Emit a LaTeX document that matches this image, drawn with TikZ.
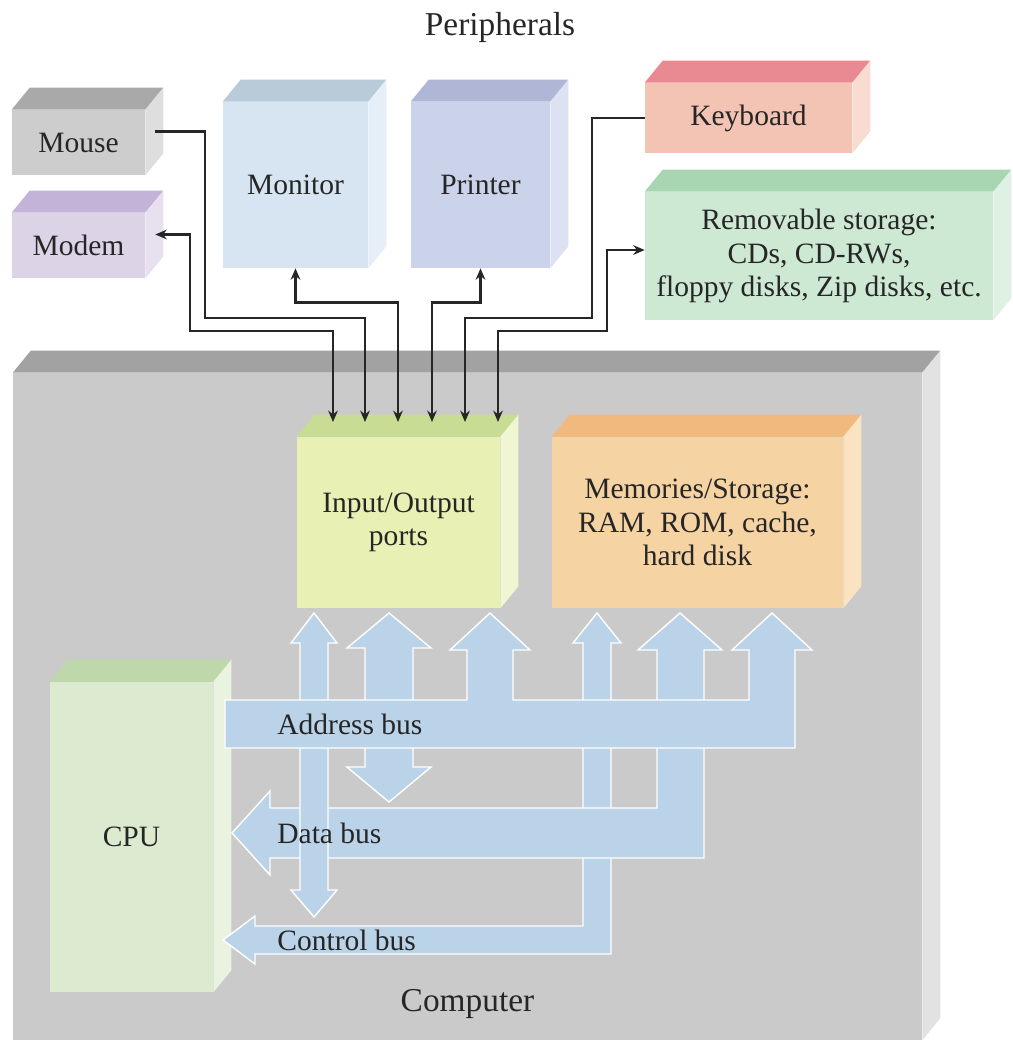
\documentclass[tikz,border=0pt]{standalone}
\usepackage{fontspec}
\setmainfont{Liberation Serif}
\usetikzlibrary{arrows.meta,positioning,calc}

% front / top / side colours of the boxes
\definecolor{mouseF}{HTML}{CDCDCD}\definecolor{mouseT}{HTML}{A9A9A9}\definecolor{mouseS}{HTML}{DEDEDE}
\definecolor{modemF}{HTML}{DCD3E6}\definecolor{modemT}{HTML}{C3B3D8}\definecolor{modemS}{HTML}{E7E0EF}
\definecolor{monF}{HTML}{D6E5F1}\definecolor{monT}{HTML}{B9CAD9}\definecolor{monS}{HTML}{E6EFF7}
\definecolor{prnF}{HTML}{CBD3EA}\definecolor{prnT}{HTML}{B0B6D6}\definecolor{prnS}{HTML}{DDE2F2}
\definecolor{kbdF}{HTML}{F3C3B3}\definecolor{kbdT}{HTML}{E98A92}\definecolor{kbdS}{HTML}{F8DCD2}
\definecolor{remF}{HTML}{CDE8D3}\definecolor{remT}{HTML}{A8D5B2}\definecolor{remS}{HTML}{DEF1E3}
\definecolor{compF}{HTML}{CACACA}\definecolor{compT}{HTML}{A2A2A2}\definecolor{compS}{HTML}{E2E2E2}
\definecolor{ioF}{HTML}{E8F0B4}\definecolor{ioT}{HTML}{C8DC94}\definecolor{ioS}{HTML}{F1F6D2}
\definecolor{memF}{HTML}{F5D3A3}\definecolor{memT}{HTML}{F2B97E}\definecolor{memS}{HTML}{FAE3C0}
\definecolor{cpuF}{HTML}{DCEBD0}\definecolor{cpuT}{HTML}{BED7AB}\definecolor{cpuS}{HTML}{E9F3E0}
\definecolor{busblue}{HTML}{BAD3E8}

\begin{document}
\begin{tikzpicture}[x=0.02cm, y=-0.02cm, >={Stealth[length=6.5pt,width=5.5pt]},
	   font=\fontsize{16.8}{19}\selectfont,
	   b/.style={inner sep=0pt, align=center, text=black!85},
	   ttl/.style={font=\fontsize{19}{22}\selectfont, text=black!85},
	   bus/.style={fill=busblue, draw=white, line width=0.8pt},
	   wire/.style={line width=1.6pt, draw=black!85}]
	  \fill[white, use as bounding box] (0,0) rectangle (1013,1048);

	  % computer and its parts
	  \node[b, fill=compF, minimum width=18.18cm, minimum height=13.34cm] (comp) at (467.5,706.5) {};
	  \node[ttl, above=0.3cm of comp.south] (complbl) {Computer};
	  \node[b, fill=ioF, minimum width=4.06cm, minimum height=3.42cm] (io) at (398.5,522.5) {Input/Output\\ports};
	  \node[b, fill=memF, minimum width=5.82cm, minimum height=3.42cm] (mem) at (697.5,522.5) {Memories/Storage:\\RAM, ROM, cache,\\hard disk};
	  \node[b, fill=cpuF, minimum width=3.26cm, minimum height=6.2cm] (cpu) at (131.5,837) {CPU};

	  % peripherals
	  \node[ttl] (periph) at (500,27) {Peripherals};
	  \node[b, fill=mouseF, minimum width=2.66cm, minimum height=1.3cm] (mouse) at (78.5,142.5) {Mouse};
	  \node[b, fill=modemF, minimum width=2.66cm, minimum height=1.3cm] (modem) at (78.5,245.5) {Modem};
	  \node[b, fill=monF, minimum width=2.9cm, minimum height=3.32cm] (monitor) at (295.5,185) {Monitor};
	  \node[b, fill=prnF, minimum width=2.78cm, minimum height=3.32cm] (printer) at (480.5,185) {Printer};
	  \node[b, fill=kbdF, minimum width=4.14cm, minimum height=1.4cm] (keyboard) at (748.5,118) {Keyboard};
	  \node[b, fill=remF, minimum width=6.96cm, minimum height=2.56cm] (remov) at (819,256) {Removable storage:\\CDs, CD-RWs,\\floppy disks, Zip disks, etc.};

	  % top and side faces
	  \foreach \n/\col in {mouse/mouse, modem/modem, monitor/mon, printer/prn, keyboard/kbd,
	                       remov/rem, comp/comp, io/io, mem/mem, cpu/cpu} {
	    \fill[\col T] (\n.north west) -- ++(18,-22) -- ($(\n.north east)+(18,-22)$) -- (\n.north east) -- cycle;
	    \fill[\col S] (\n.north east) -- ++(18,-22) -- ($(\n.south east)+(18,-22)$) -- (\n.south east) -- cycle;
	  }

	  % buses
	  \path[bus] (223,940) -- (255,916) -- (255,926) -- (583,926) -- (583,643) -- (573,643) -- (597,613)
	    -- (621,643) -- (611,643) -- (611,954) -- (255,954) -- (255,964) -- cycle;
	  \path[bus] (232,833) -- (270,791) -- (270,808) -- (657,808) -- (657,650) -- (638,650) -- (680,613)
	    -- (722,650) -- (704,650) -- (704,858) -- (270,858) -- (270,875) -- cycle;
	  \path[bus] (314,613) -- (337,643) -- (328,643) -- (328,890) -- (337,890) -- (314,917) -- (291,890)
	    -- (300,890) -- (300,643) -- (291,643) -- cycle;
	  \path[bus] (389,613) -- (431,648) -- (413,648) -- (413,767) -- (431,767) -- (389,802) -- (347,767)
	    -- (365,767) -- (365,648) -- (347,648) -- cycle;
	  \path[bus] (225,700) -- (467,700) -- (467,650) -- (450,650) -- (490,613) -- (530,650) -- (513,650)
	    -- (513,700) -- (749,700) -- (749,650) -- (732,650) -- (772,613) -- (812,650) -- (795,650)
	    -- (795,748) -- (225,748) -- cycle;
	  \node[b, anchor=west] (abus) at (277,724) {Address bus};
	  \node[b, anchor=west] (dbus) at (277,833) {Data bus};
	  \node[b, anchor=west] (cbus) at (277,940) {Control bus};

	  % wires to the ports
	  \foreach \i/\x in {1/333, 2/365, 3/398, 4/432, 5/465, 6/498}
	    \coordinate (p\i) at (\x,422);
	  \draw[wire, <->] ($(modem.east)+(10,-11)$) -| (190,331) -| (p1);
	  \draw[wire, ->] ($(mouse.east)+(10,-11)$) -| (205,318) -| (p2);
	  \draw[wire, <->] (monitor.south) -- ++(0,34) -| (p3);
	  \draw[wire, <->] (printer.south) -- ++(0,34) -| (p4);
	  \draw[wire, ->] (keyboard.west) -| (592,318) -| (p5);
	  \draw[wire, <->] ($(remov.west)+(0,-6)$) -| (607,331) -| (p6);
	\end{tikzpicture}
\end{document}
